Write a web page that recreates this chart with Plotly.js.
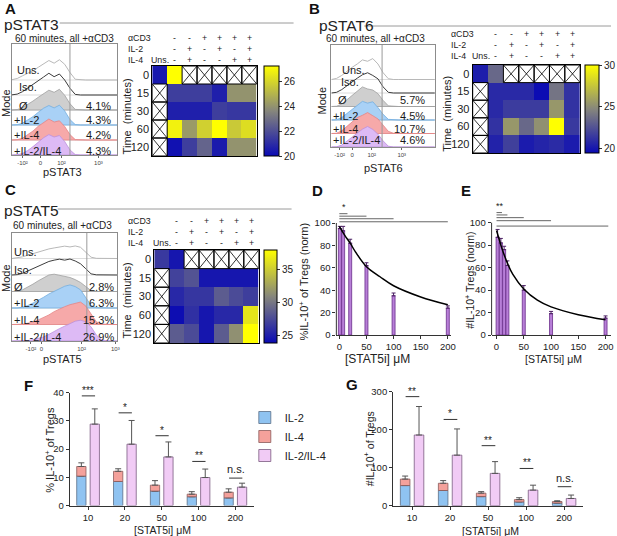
<!DOCTYPE html>
<html><head><meta charset="utf-8">
<script src="https://cdn.plot.ly/plotly-3.0.1.min.js"></script>
<style>html,body{margin:0;padding:0;background:#fff}#chart{width:617px;height:536px}</style>
</head><body><div id="chart"></div>
<script>
// ================= DATA =================
// Flow histograms (relative height, in row units) on a common x grid
const HX = [0,5,10,15,20,25,30,35,40,45,50,55,60,65,70,75,80,85,90,95,100];
const HIST_ROWS = ['Uns.','Iso.','Ø','+IL-2','+IL-4','+IL-2/IL-4'];
const HIST_TICKTEXT = ['-10²','0','10²','10³'];

const A_UNS  = [0.02,0.1,0.28,0.45,0.62,0.85,1.05,1.3,1.12,1.35,1.05,0.5,0.05,0,0,0,0,0,0,0,0];
const A_ISO  = [0.01,0.06,0.22,0.45,0.68,0.92,1.2,1.45,1.22,1.4,1.0,0.45,0.04,0,0,0,0,0,0,0,0];
const A_NONE = [0,0.03,0.15,0.36,0.6,0.85,1.1,1.32,1.18,1.38,0.98,0.42,0.04,0,0,0,0,0,0,0,0];
const A_IL2  = [0,0.02,0.12,0.32,0.56,0.85,1.12,1.3,1.14,1.32,0.94,0.36,0.03,0,0,0,0,0,0,0,0];
const A_IL4  = [0,0.02,0.12,0.35,0.6,0.92,1.16,1.4,1.2,1.28,0.9,0.36,0.03,0,0,0,0,0,0,0,0];
const A_IL24 = [0,0.02,0.1,0.3,0.56,0.86,1.15,1.36,1.2,1.3,0.9,0.34,0.03,0,0,0,0,0,0,0,0];
const A_PCT  = ['','','4.1%','4.3%','4.2%','4.3%'];
const A_TICKPOS = [10,27,47,82];
const A_GATE = 55;

const B_UNS  = [0,0.08,0.3,0.62,0.9,1.15,1.45,1.35,1.55,1.15,0.5,0.06,0,0,0,0,0,0,0,0,0];
const B_ISO  = [0,0.05,0.25,0.55,0.85,1.1,1.35,1.5,1.3,1.05,0.45,0.05,0,0,0,0,0,0,0,0,0];
const B_NONE = [0,0.02,0.18,0.5,0.85,1.15,1.45,1.3,1.22,0.95,0.45,0.05,0,0,0,0,0,0,0,0,0];
const B_IL2  = [0,0.02,0.18,0.48,0.8,1.1,1.38,1.25,1.35,0.92,0.42,0.05,0,0,0,0,0,0,0,0,0];
const B_IL4  = [0,0.02,0.2,0.52,0.88,1.18,1.35,1.55,1.32,1.08,0.62,0.16,0.02,0,0,0,0,0,0,0,0];
const B_IL24 = [0,0.01,0.14,0.44,0.75,1.05,1.32,1.52,1.3,0.95,0.45,0.06,0,0,0,0,0,0,0,0,0];
const B_PCT  = ['','','5.7%','4.5%','10.7%','4.6%'];
const B_TICKPOS = [8,20,39,68];
const B_GATE = 49;

const C_UNS  = [0,0.03,0.1,0.2,0.3,0.4,0.5,0.58,0.64,0.7,0.75,0.7,0.76,0.68,0.4,0.08,0.01,0,0,0,0];
const C_ISO  = [0,0.02,0.1,0.24,0.4,0.55,0.7,0.82,0.9,0.96,0.9,0.97,0.85,0.68,0.38,0.07,0.01,0,0,0,0];
const C_NONE = [0,0.02,0.1,0.25,0.45,0.65,0.85,1.0,1.05,0.98,0.92,0.85,0.72,0.55,0.3,0.05,0,0,0,0,0];
const C_IL2  = [0,0,0.05,0.15,0.3,0.45,0.65,0.85,1.0,1.18,1.32,1.4,1.3,1.1,0.62,0.16,0.02,0,0,0,0];
const C_IL4  = [0,0,0.02,0.08,0.15,0.28,0.42,0.58,0.78,0.95,1.08,1.2,1.3,1.36,1.12,0.62,0.16,0.03,0,0,0];
const C_IL24 = [0,0,0,0.03,0.08,0.15,0.25,0.4,0.55,0.75,0.9,1.05,1.2,1.26,1.16,0.86,0.36,0.08,0.01,0,0];
const C_PCT  = ['','','2.8%','6.3%','15.3%','26.9%'];
const C_TICKPOS = [18,28,66,98];
const C_GATE = 71;

// Heatmaps: rows = time, col 0 = Uns., cols 1-6 = conditions (null = not done)
const TIMES = ['0','15','30','60','120'];
const ACD3 = ['-','-','+','+','+','+'];
const IL2  = ['-','+','-','+','-','+'];
const IL4  = ['-','+','-','-','+','+'];
const A_Z = [
  [20.4, 27.2, null, null, null, null, null],
  [null, 21.5, 21.5, 21.5, 20.6, 24.0, 24.0],
  [null, 20.6, 20.6, 20.6, 21.5, 21.3, 21.3],
  [null, 26.8, 24.2, 25.8, 27.2, 25.6, 26.2],
  [null, 20.2, 21.5, 22.6, 20.5, 24.0, 24.0]
];
const B_Z = [
  [20.3, 23.5, null, null, null, null, null],
  [null, 20.8, 20.8, 20.8, 19.6, 24.0, 21.2],
  [null, 20.8, 21.6, 21.6, 21.6, 25.5, 21.2],
  [null, 21.2, 25.5, 23.5, 25.2, 30.0, 21.5],
  [null, 20.5, 21.8, 20.2, 20.6, 20.9, 20.2]
];
const C_Z = [
  [26.5, 24.5, null, null, null, null, null],
  [null, 27.0, 28.0, 24.5, 24.5, 24.5, 24.5],
  [null, 25.5, 26.3, 26.3, 28.5, 27.5, 26.8],
  [null, 24.0, 26.0, 24.5, 25.5, 25.5, 36.5],
  [null, 28.5, 27.5, 24.5, 28.5, 31.5, 38.0]
];
const A_ZRANGE = [20, 27.2], B_ZRANGE = [19.5, 30], C_ZRANGE = [23.8, 38];
const A_CBTICKS = [20,22,24,26], B_CBTICKS = [20,25,30], C_CBTICKS = [25,30,35];

// D / E dose response
const D_X = [1, 7, 20, 50, 100, 200];
const D_Y = [95, 93, 82, 62, 35, 24];
const D_ERR = [2, 4, 3.5, 2.5, 2.5, 2];
const D_FIT_X = [0, 10, 20, 30, 50, 75, 100, 150, 200];
const D_FIT_Y = [97, 89, 82, 74, 61, 52, 44, 34, 27];
const D_SIG_END = [15, 50, 100, 200];
const D_SIG_Y = [108.3, 106.1, 103.8, 101.1];
const D_SIG_TEXT = '*';

const E_X = [2, 8, 14, 20, 50, 100, 200];
const E_Y = [87, 82, 76, 62, 40, 19, 15];
const E_ERR = [7, 4, 3, 4, 4, 2, 2];
const E_FIT_X = [0, 5, 10, 20, 30, 50, 75, 100, 150, 200];
const E_FIT_Y = [93, 85, 77, 64, 54, 41, 31, 25, 18, 13.5];
const E_SIG_END = [10, 20, 50, 100, 205];
const E_SIG_Y = [109, 106.9, 104.5, 101.8, 97];
const E_SIG_TEXT = '**';

// F / G grouped bars
const CONC = ['10','20','50','100','200'];
const F_IL2 = [10.4, 8.5, 5.1, 3.1, 2.7];
const F_IL2_ERR = [2.0, 0.7, 1.1, 0.5, 1.1];
const F_IL4 = [3.4, 3.6, 2.1, 0.9, 2.0];
const F_IL4_ERR = [1.3, 0.9, 1.6, 0.9, 1.2];
const F_IL24 = [28.8, 21.7, 17.2, 9.9, 6.5];
const F_IL24_ERR = [5.4, 8.4, 5.3, 3.0, 1.4];
const F_SIG = ['***','*','*','**','n.s.'];
const F_SIG_Y = [38.8, 32.8, 24.7, 15.6, 9.7];

const G_IL2 = [53, 40, 24, 10, 7];
const G_IL2_ERR = [9, 4, 3, 3, 2];
const G_IL4 = [17, 19, 9, 6, 4];
const G_IL4_ERR = [8, 7, 4, 5, 2];
const G_IL24 = [186, 133, 85, 41, 19];
const G_IL24_ERR = [75, 69, 31, 13, 9];
const G_SIG = ['**','*','**','**','n.s.'];
const G_SIG_Y = [287, 227, 158, 98, 50];

// ================= STYLE / LAYOUT HELPERS =================
const W = 617, H = 536;
const X = px => px / W;
const Y = py => 1 - py / H;
const FONT = 'Arial, "Liberation Sans", sans-serif';
const CS = [[0,'#0a0ab4'],[0.5,'#86867c'],[1,'#ffff00']];
const HIST_STYLE = [
  {line:'#b8b8b8', fill:null},
  {line:'#3c3c3c', fill:null},
  {line:'#a0a0a0', fill:'#cfcfcf'},
  {line:'#74aee0', fill:'#a9d1f6'},
  {line:'#e58585', fill:'#f6a9a9'},
  {line:'#bb90dc', fill:'#ddbaf5'}
];
const axId = n => (n === 1 ? '' : String(n));

const traces = [];
const layout = {
  width: W, height: H,
  margin: {l:0, r:0, t:0, b:0, pad:0},
  paper_bgcolor: '#ffffff', plot_bgcolor: 'rgba(0,0,0,0)',
  font: {family: FONT, size: 10, color: '#222'},
  showlegend: true,
  barmode: 'group', bargap: 0.27, bargroupgap: 0.31,
  legend: {x: X(246), y: Y(403), xanchor: 'left', yanchor: 'top', bgcolor: 'rgba(0,0,0,0)',
           borderwidth: 0, font: {size: 11, family: FONT, color: '#222'}, itemwidth: 30, tracegroupgap: 0},
  annotations: [], shapes: []
};
function ann(text, px, py, o) {
  layout.annotations.push(Object.assign({text: text, x: X(px), y: Y(py), xref: 'paper', yref: 'paper',
    showarrow: false, xanchor: 'center', yanchor: 'middle', font: {size: 10, color: '#222', family: FONT}}, o || {}));
}
function hline(px0, px1, py, color) {
  layout.shapes.push({type: 'line', xref: 'paper', yref: 'paper', x0: X(px0), x1: X(px1), y0: Y(py), y1: Y(py),
    line: {color: color || '#9a9a9a', width: 1}});
}

// ----- Histogram panels -----
function histPanel(n, box, rows, pct, tickpos, gate, labelX, labelDy, pctX) {
  const id = axId(n), xr = 'x' + id, yr = 'y' + id;
  const nRows = rows.length;
  const yMax = (box.b - box.t) / box.row;
  layout['xaxis' + id] = {domain: [X(box.l), X(box.r)], range: [0, 100], anchor: yr, showline: true, mirror: true,
    linecolor: '#8c8c8c', linewidth: 1, showgrid: false, zeroline: false, tickmode: 'array', tickvals: tickpos,
    ticktext: HIST_TICKTEXT, ticks: 'outside', ticklen: 2, tickcolor: '#666', tickfont: {size: 6, color: '#444'}};
  layout['yaxis' + id] = {domain: [Y(box.b), Y(box.t)], range: [0, yMax], anchor: xr, showline: true, mirror: true,
    linecolor: '#8c8c8c', linewidth: 1, showgrid: false, zeroline: false, showticklabels: false, ticks: ''};
  for (let k = 1; k < nRows; k++) {
    layout.shapes.push({type: 'line', xref: xr, yref: yr, x0: 0, x1: 100, y0: k, y1: k, layer: 'below',
      line: {color: '#dcdcdc', width: 1}});
  }
  layout.shapes.push({type: 'line', xref: xr, yref: yr, x0: gate, x1: gate, y0: 0, y1: yMax,
    line: {color: '#9a9a9a', width: 1}});
  rows.forEach((vals, i) => {
    const off = nRows - 1 - i;
    const st = HIST_STYLE[i];
    if (st.fill) {
      traces.push({type: 'scatter', mode: 'lines', xaxis: xr, yaxis: yr,
        x: HX.concat(HX.slice().reverse()),
        y: vals.map(v => v + off).concat(HX.map(() => off)),
        fill: 'toself', fillcolor: st.fill, line: {color: st.line, width: 0.8}, showlegend: false, hoverinfo: 'skip'});
    } else {
      traces.push({type: 'scatter', mode: 'lines', xaxis: xr, yaxis: yr, x: HX, y: vals.map(v => v + off),
        line: {color: st.line, width: 1}, showlegend: false, hoverinfo: 'skip'});
    }
    layout.annotations.push({text: HIST_ROWS[i], xref: xr, yref: yr, x: labelX[i], y: off + labelDy[i],
      xanchor: 'left', yanchor: 'middle', showarrow: false, font: {size: 11, color: '#1a1a1a', family: FONT}});
    if (pct[i]) {
      layout.annotations.push({text: pct[i], xref: xr, yref: yr, x: pctX, y: off + labelDy[i],
        xanchor: 'right', yanchor: 'middle', showarrow: false, font: {size: 11, color: '#1a1a1a', family: FONT}});
    }
  });
}

// ----- Heatmap panels -----
function heatPanel(n, box, Z, zr, cb, cbTicks, hdr, timeLbl) {
  const id = axId(n), xr = 'x' + id, yr = 'y' + id;
  const cols = Z[0].map((_, i) => i), rowsIdx = TIMES.map((_, i) => i);
  layout['xaxis' + id] = {domain: [X(box.l), X(box.r)], range: [-0.5, cols.length - 0.5], anchor: yr,
    showline: true, mirror: true, linecolor: '#000', linewidth: 1, showgrid: false, zeroline: false,
    showticklabels: false, ticks: ''};
  layout['yaxis' + id] = {domain: [Y(box.b), Y(box.t)], range: [rowsIdx.length - 0.5, -0.5], anchor: xr,
    showline: true, mirror: true, linecolor: '#000', linewidth: 1, showgrid: false, zeroline: false,
    tickmode: 'array', tickvals: rowsIdx, ticktext: TIMES, ticks: '', tickfont: {size: 11, color: '#222'}};
  traces.push({type: 'heatmap', xaxis: xr, yaxis: yr, x: cols, y: rowsIdx, z: Z, zmin: zr[0], zmax: zr[1],
    colorscale: CS, hoverongaps: false, showscale: true,
    colorbar: {x: X(cb.l), xanchor: 'left', y: Y(cb.t), yanchor: 'top', len: cb.len, lenmode: 'pixels',
      thickness: cb.w, thicknessmode: 'pixels', outlinewidth: 1, outlinecolor: '#000', borderwidth: 0,
      tickmode: 'array', tickvals: cbTicks, ticks: 'outside', ticklen: 3, tickcolor: '#333',
      tickfont: {size: 10, color: '#222'}, xpad: 0, ypad: 0}});
  Z.forEach((row, r) => row.forEach((v, c) => {
    if (v === null) {
      layout.shapes.push({type: 'rect', xref: xr, yref: yr, x0: c - 0.5, x1: c + 0.5, y0: r - 0.5, y1: r + 0.5,
        line: {color: '#000', width: 1}});
      layout.shapes.push({type: 'line', xref: xr, yref: yr, x0: c - 0.5, x1: c + 0.5, y0: r - 0.5, y1: r + 0.5,
        line: {color: '#000', width: 0.8}});
      layout.shapes.push({type: 'line', xref: xr, yref: yr, x0: c - 0.5, x1: c + 0.5, y0: r + 0.5, y1: r - 0.5,
        line: {color: '#000', width: 0.8}});
    }
  }));
  // column headers
  const hf = {size: 8.8, color: '#222', family: FONT};
  ann('αCD3', hdr.x, hdr.y[0], {xanchor: 'left', font: hf, borderpad: 0});
  ann('IL-2', hdr.x, hdr.y[1], {xanchor: 'left', font: hf, borderpad: 0});
  ann('IL-4', hdr.x, hdr.y[2], {xanchor: 'left', font: hf, borderpad: 0});
  const sym = (t, c, py) => layout.annotations.push({text: t, xref: xr, yref: 'paper', x: c, y: Y(py),
    showarrow: false, xanchor: 'center', yanchor: 'middle', font: hf, borderpad: 0});
  sym('Uns.', 0.05, hdr.y[2]);
  [ACD3, IL2, IL4].forEach((arr, k) => arr.forEach((t, j) => sym(t, j + 1, hdr.y[k])));
  ann('Time  (minutes)', timeLbl.x, timeLbl.y, {textangle: -90, font: {size: 11, color: '#222', family: FONT}});
}

// ----- Panels A, B, C -----
histPanel(1, {l: 12, r: 118, t: 44, b: 155, row: 15},
  [A_UNS, A_ISO, A_NONE, A_IL2, A_IL4, A_IL24], A_PCT, A_TICKPOS, A_GATE,
  [3, 4.4, 4.7, 0, 0, 0], [0.65, 0.55, 0.3, 0.35, 0.35, 0.25], 96);
histPanel(3, {l: 333, r: 437, t: 45, b: 147, row: 13.5},
  [B_UNS, B_ISO, B_NONE, B_IL2, B_IL4, B_IL24], B_PCT, B_TICKPOS, B_GATE,
  [8.3, 7.4, 4.8, 0, 0, 0], [0.7, 0.84, 0.48, 0.3, 0.3, 0.5], 92);
histPanel(5, {l: 12, r: 118, t: 233, b: 341, row: 16.5},
  [C_UNS, C_ISO, C_NONE, C_IL2, C_IL4, C_IL24], C_PCT, C_TICKPOS, C_GATE,
  [0.5, 0.5, 0.5, 0.5, 0.5, 0.5], [0.4, 0.3, 0.28, 0.3, 0.28, 0.26], 99);

heatPanel(2, {l: 153, r: 258, t: 66, b: 156}, A_Z, A_ZRANGE, {l: 265, t: 66, len: 90, w: 15}, A_CBTICKS,
  {x: 128, y: [38, 49, 60]}, {x: 128, y: 116});
heatPanel(4, {l: 475, r: 583, t: 65, b: 153}, B_Z, B_ZRANGE, {l: 588, t: 65, len: 88, w: 14}, B_CBTICKS,
  {x: 452, y: [34, 45, 56]}, {x: 449, y: 114});
heatPanel(6, {l: 155, r: 260, t: 250, b: 343}, C_Z, C_ZRANGE, {l: 265, t: 250, len: 93, w: 13}, C_CBTICKS,
  {x: 128, y: [221, 232, 243]}, {x: 128, y: 300});

// ----- Panels D, E -----
function dosePanel(n, dom, xr0, X_, Y_, ERR, FX, FY, SIGEND, SIGY, SIGTXT, starX) {
  const id = axId(n), xr = 'x' + id, yr = 'y' + id;
  const pxPerUnit = (dom.b - dom.y100) / 100;
  const yMax = 113;
  layout['xaxis' + id] = {domain: [X(dom.l), X(dom.r)], range: xr0, anchor: yr, showline: true, linecolor: '#333',
    linewidth: 1, showgrid: false, zeroline: false, tickmode: 'array', tickvals: [0, 50, 100, 150, 200],
    ticks: 'outside', ticklen: 3, tickcolor: '#333', tickfont: {size: 9.5, color: '#222'}};
  layout['yaxis' + id] = {domain: [Y(dom.b), Y(dom.b - yMax * pxPerUnit)], range: [0, yMax], anchor: xr,
    showline: false, showgrid: false, zeroline: false, tickmode: 'array', tickvals: [0, 20, 40, 60, 80, 100],
    ticks: 'outside', ticklen: 3, tickcolor: '#333', tickfont: {size: 9.5, color: '#222'}};
  layout.shapes.push({type: 'line', xref: 'paper', yref: yr, x0: X(dom.l), x1: X(dom.l), y0: 0, y1: 100,
    line: {color: '#333', width: 1}});
  traces.push({type: 'bar', xaxis: xr, yaxis: yr, x: X_, y: Y_, width: 5.5, showlegend: false, hoverinfo: 'skip',
    marker: {color: '#b87fd8', line: {color: '#6a2d8a', width: 0.8}},
    error_y: {type: 'data', array: ERR, arrayminus: ERR.map(() => 0), symmetric: false, color: '#4b1f63',
      thickness: 1, width: 2}});
  traces.push({type: 'scatter', mode: 'lines', xaxis: xr, yaxis: yr, x: FX, y: FY, showlegend: false,
    hoverinfo: 'skip', line: {color: '#000', width: 1.5, shape: 'spline'}});
  SIGEND.forEach((e, i) => layout.shapes.push({type: 'line', xref: xr, yref: yr, x0: 0, x1: e, y0: SIGY[i], y1: SIGY[i],
    line: {color: '#666', width: 1}}));
  layout.annotations.push({text: SIGTXT, xref: xr, yref: yr, x: starX, y: SIGY[0], xanchor: 'center',
    yanchor: 'bottom', showarrow: false, font: {size: 9, color: '#222', family: FONT}});
}
dosePanel(7, {l: 338, r: 453, b: 335, y100: 223}, [-5.5, 205.5], D_X, D_Y, D_ERR, D_FIT_X, D_FIT_Y,
  D_SIG_END, D_SIG_Y, D_SIG_TEXT, 9);
dosePanel(8, {l: 494, r: 614, b: 335, y100: 222.7}, [-9, 210], E_X, E_Y, E_ERR, E_FIT_X, E_FIT_Y,
  E_SIG_END, E_SIG_Y, E_SIG_TEXT, 6);

// ----- Panels F, G -----
function groupPanel(n, dom, yr0, dtick, IL2v, IL2e, IL4v, IL4e, BOTHv, BOTHe, SIG, SIGY, legend) {
  const id = axId(n), xr = 'x' + id, yr = 'y' + id;
  layout['xaxis' + id] = {domain: [X(dom.l), X(dom.r)], type: 'category', categoryorder: 'array',
    categoryarray: CONC, range: [-0.5, CONC.length - 0.5], anchor: yr, showline: true, linecolor: '#333',
    linewidth: 1, showgrid: false, zeroline: false, ticks: 'outside', ticklen: 3, tickcolor: '#333',
    tickfont: {size: 9.5, color: '#222'}};
  layout['yaxis' + id] = {domain: [Y(dom.b), Y(dom.t)], range: yr0, anchor: xr, showline: true, linecolor: '#333',
    linewidth: 1, showgrid: false, zeroline: false, dtick: dtick, ticks: 'outside', ticklen: 3, tickcolor: '#333',
    tickfont: {size: 9.5, color: '#222'}};
  const eb = (a) => ({type: 'data', array: a, arrayminus: a.map(() => 0), symmetric: false, color: '#555',
    thickness: 1, width: 3});
  traces.push({type: 'bar', name: 'IL-2', xaxis: xr, yaxis: yr, x: CONC, y: IL2v, offsetgroup: 'a',
    showlegend: legend, legendrank: 1, hoverinfo: 'skip',
    marker: {color: '#8fc3f1', line: {color: '#5b6f86', width: 0.8}}, error_y: eb(IL2e)});
  traces.push({type: 'bar', name: 'IL-4', xaxis: xr, yaxis: yr, x: CONC, y: IL4v, base: IL2v, offsetgroup: 'a',
    showlegend: legend, legendrank: 2, hoverinfo: 'skip',
    marker: {color: '#f4a19b', line: {color: '#8a5a5a', width: 0.8}}, error_y: eb(IL4e)});
  traces.push({type: 'bar', name: 'IL-2/IL-4', xaxis: xr, yaxis: yr, x: CONC, y: BOTHv, offsetgroup: 'b',
    showlegend: legend, legendrank: 3, hoverinfo: 'skip',
    marker: {color: '#f1cbf5', line: {color: '#7a5a80', width: 0.8}}, error_y: eb(BOTHe)});
  SIG.forEach((t, i) => {
    layout.shapes.push({type: 'line', xref: xr, yref: yr, x0: i - 0.17, x1: i + 0.19, y0: SIGY[i], y1: SIGY[i],
      line: {color: '#333', width: 1}});
    layout.annotations.push({text: t, xref: xr, yref: yr, x: i + 0.01, y: SIGY[i], xanchor: 'center',
      yanchor: 'bottom', yshift: t === 'n.s.' ? 1 : -2, showarrow: false,
      font: {size: t === 'n.s.' ? 11 : 10, color: '#222', family: FONT}});
  });
}
groupPanel(9, {l: 70, r: 255, t: 392.5, b: 505.5}, [0, 40], 10, F_IL2, F_IL2_ERR, F_IL4, F_IL4_ERR,
  F_IL24, F_IL24_ERR, F_SIG, F_SIG_Y, true);
groupPanel(10, {l: 395, r: 586, t: 391.7, b: 505.7}, [0, 300], 100, G_IL2, G_IL2_ERR, G_IL4, G_IL4_ERR,
  G_IL24, G_IL24_ERR, G_SIG, G_SIG_Y, false);

// ----- Titles, labels -----
const bold = {size: 15, color: '#111', family: FONT};
ann('<b>A</b>', 3, 9, {xanchor: 'left', font: bold});
ann('<b>B</b>', 309, 8, {xanchor: 'left', font: bold});
ann('<b>C</b>', 3, 189, {xanchor: 'left', font: bold});
ann('<b>D</b>', 312, 190, {xanchor: 'left', font: bold});
ann('<b>E</b>', 461, 190, {xanchor: 'left', font: bold});
ann('<b>F</b>', 22, 385, {xanchor: 'left', font: bold});
ann('<b>G</b>', 346, 384, {xanchor: 'left', font: bold});
const ttl = {size: 15.5, color: '#222', family: FONT};
ann('pSTAT3', 2, 24, {xanchor: 'left', font: ttl}); hline(60, 295, 23);
ann('pSTAT6', 319, 26, {xanchor: 'left', font: ttl}); hline(366, 614, 26);
ann('pSTAT5', 2, 210, {xanchor: 'left', font: ttl}); hline(58, 293, 209);

const sub = {size: 10, color: '#222', family: FONT};
ann('60 minutes, all +αCD3', 65, 39, {font: sub});
ann('60 minutes, all +αCD3', 377, 39, {font: sub});
ann('60 minutes, all +αCD3', 63, 225, {font: sub});
const md = {size: 11, color: '#222', family: FONT};
ann('Mode', 6, 103, {textangle: -90, font: md});
ann('Mode', 324, 100, {textangle: -90, font: md});
ann('Mode', 6, 278, {textangle: -90, font: md});
ann('pSTAT3', 63, 172, {font: md});
ann('pSTAT6', 385, 168, {font: md});
ann('pSTAT5', 63, 359, {font: md});

ann('%IL-10<sup>+</sup> of Tregs (norm)', 305, 282, {textangle: -90, font: {size: 11, color: '#222', family: FONT}});
ann('[STAT5i] μM', 379, 359, {font: {size: 12, color: '#222', family: FONT}});
ann('#IL-10<sup>+</sup> Tregs (norm)', 471, 280, {textangle: -90, font: {size: 10.5, color: '#222', family: FONT}});
ann('[STAT5i] μM', 556, 359, {font: {size: 10.5, color: '#222', family: FONT}});
ann('% IL-10<sup>+</sup> of Tregs', 50, 450, {textangle: -90, font: {size: 11, color: '#222', family: FONT}});
ann('[STAT5i] μM', 163, 530, {font: {size: 10.5, color: '#222', family: FONT}});
ann('#IL-10<sup>+</sup> of Tregs', 370, 449, {textangle: -90, font: {size: 10.5, color: '#222', family: FONT}});
ann('[STAT5i] μM', 493, 531, {font: {size: 10.5, color: '#222', family: FONT}});

Plotly.newPlot('chart', traces, layout, {displayModeBar: false, staticPlot: true});
</script>
</body></html>
